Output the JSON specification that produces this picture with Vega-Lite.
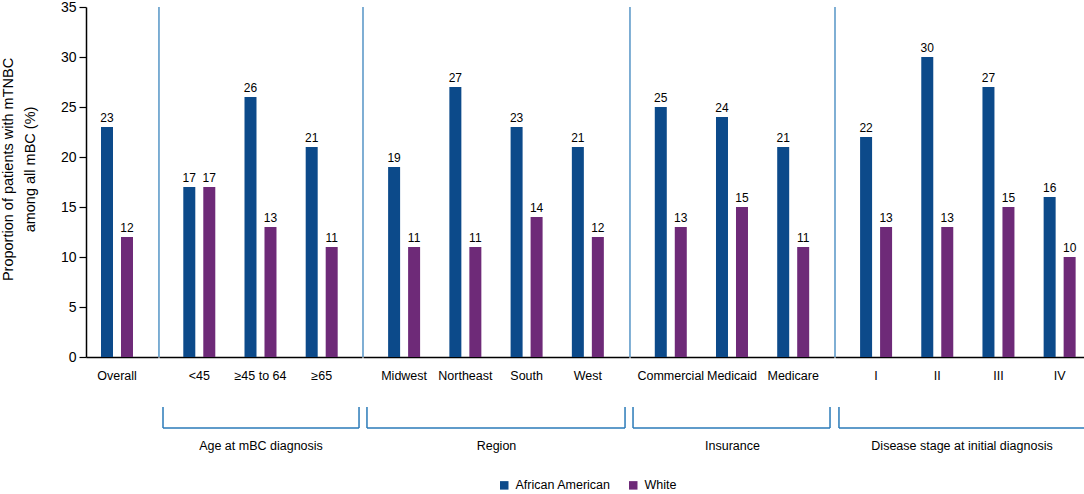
{
  "$schema": "https://vega.github.io/schema/vega-lite/v6.json",
  "padding": {"left": 0, "top": 0, "right": 1, "bottom": 0},
  "background": "white",
  "datasets": {
    "bars": [
      {"group": "Overall", "category": "Overall", "race": "African American", "value": 23},
      {"group": "Overall", "category": "Overall", "race": "White", "value": 12},
      {"group": "Age at mBC diagnosis", "category": "<45", "race": "African American", "value": 17},
      {"group": "Age at mBC diagnosis", "category": "<45", "race": "White", "value": 17},
      {"group": "Age at mBC diagnosis", "category": "≥45 to 64", "race": "African American", "value": 26},
      {"group": "Age at mBC diagnosis", "category": "≥45 to 64", "race": "White", "value": 13},
      {"group": "Age at mBC diagnosis", "category": "≥65", "race": "African American", "value": 21},
      {"group": "Age at mBC diagnosis", "category": "≥65", "race": "White", "value": 11},
      {"group": "Region", "category": "Midwest", "race": "African American", "value": 19},
      {"group": "Region", "category": "Midwest", "race": "White", "value": 11},
      {"group": "Region", "category": "Northeast", "race": "African American", "value": 27},
      {"group": "Region", "category": "Northeast", "race": "White", "value": 11},
      {"group": "Region", "category": "South", "race": "African American", "value": 23},
      {"group": "Region", "category": "South", "race": "White", "value": 14},
      {"group": "Region", "category": "West", "race": "African American", "value": 21},
      {"group": "Region", "category": "West", "race": "White", "value": 12},
      {"group": "Insurance", "category": "Commercial", "race": "African American", "value": 25},
      {"group": "Insurance", "category": "Commercial", "race": "White", "value": 13},
      {"group": "Insurance", "category": "Medicaid", "race": "African American", "value": 24},
      {"group": "Insurance", "category": "Medicaid", "race": "White", "value": 15},
      {"group": "Insurance", "category": "Medicare", "race": "African American", "value": 21},
      {"group": "Insurance", "category": "Medicare", "race": "White", "value": 11},
      {"group": "Disease stage", "category": "I", "race": "African American", "value": 22},
      {"group": "Disease stage", "category": "I", "race": "White", "value": 13},
      {"group": "Disease stage", "category": "II", "race": "African American", "value": 30},
      {"group": "Disease stage", "category": "II", "race": "White", "value": 13},
      {"group": "Disease stage", "category": "III", "race": "African American", "value": 27},
      {"group": "Disease stage", "category": "III", "race": "White", "value": 15},
      {"group": "Disease stage", "category": "IV", "race": "African American", "value": 16},
      {"group": "Disease stage", "category": "IV", "race": "White", "value": 10}
    ],
    "groups": [
      {"group": "Age at mBC diagnosis"},
      {"group": "Region"},
      {"group": "Insurance"},
      {"group": "Disease stage"}
    ]
  },
  "data": {"name": "bars"},
  "spacing": 0,
  "resolve": {"scale": {"x": "independent", "y": "independent", "color": "shared"}},
  "hconcat": [
    {
      "width": 72,
      "height": 350,
      "transform": [{"filter": "datum.group === 'Overall'"}],
      "encoding": {
        "x": {"field": "category", "type": "nominal", "sort": null,
              "scale": {"domain": ["Overall"], "paddingInner": 0.477, "paddingOuter": 0.327, "align": 0.375},
              "axis": {"title": null}},
        "xOffset": {"field": "race", "type": "nominal", "sort": ["African American", "White"], "scale": {"paddingInner": 0.4, "paddingOuter": 0}},
        "y": {"field": "value", "type": "quantitative",
              "scale": {"domain": [0, 35], "nice": false},
              "axis": {
                "values": [0, 5, 10, 15, 20, 25, 30, 35],
                "title": ["Proportion of patients with mTNBC", "among all mBC (%)"],
                "titleFontSize": 14.5, "titleLineHeight": 22, "titlePadding": 23, "titleY": 162,
                "labelFontSize": 14, "labelPadding": 3, "tickSize": 7, "tickColor": "black", "tickWidth": 1.2,
                "domainWidth": 1.5, "grid": false
              }}
      },
      "layer": [
        {"mark": {"type": "bar"},
         "encoding": {"color": {"field": "race", "type": "nominal",
           "scale": {"domain": ["African American", "White"], "range": ["#0c4a8a", "#6e2a78"]},
           "legend": {"orient": "none", "direction": "horizontal", "legendX": 412, "legendY": 472, "title": null,
                      "symbolType": "square", "symbolSize": 72, "symbolStrokeWidth": 0,
                      "labelFontSize": 12.5, "labelColor": "black", "columnPadding": 16, "labelOffset": 5, "padding": 0}}}},
        {"mark": {"type": "text", "dy": -5, "fontSize": 12, "baseline": "alphabetic", "color": "black"},
         "encoding": {"text": {"field": "value", "type": "quantitative"}}}
      ]
    },
    {
      "width": 203,
      "height": 350,
      "layer": [
        {
          "transform": [{"filter": "datum.group === 'Age at mBC diagnosis'"}],
          "encoding": {
            "x": {"field": "category", "type": "nominal", "sort": null,
                  "scale": {"domain": ["<45", "≥45 to 64", "≥65"], "paddingInner": 0.477, "paddingOuter": 0.397},
                  "axis": {"title": "Age at mBC diagnosis"}},
            "xOffset": {"field": "race", "type": "nominal", "sort": ["African American", "White"], "scale": {"paddingInner": 0.4, "paddingOuter": 0}},
            "y": {"field": "value", "type": "quantitative", "scale": {"domain": [0, 35], "nice": false}, "axis": null}
          },
          "layer": [
            {"mark": {"type": "bar"}, "encoding": {"color": {"field": "race", "type": "nominal"}}},
            {"mark": {"type": "text", "dy": -5, "fontSize": 12, "baseline": "alphabetic", "color": "black"},
             "encoding": {"text": {"field": "value", "type": "quantitative"}}}
          ]
        },
        {
          "data": {"name": "groups"},
          "transform": [{"filter": "datum.group === 'Age at mBC diagnosis'"}],
          "mark": {"type": "rule", "color": "#2a7ab8", "strokeWidth": 1.2},
          "encoding": {"x": {"datum": "<45", "bandPosition": -0.76}, "y": {"datum": 35}, "y2": {"datum": 0}}
        },
        {
          "data": {"name": "groups"},
          "transform": [{"filter": "datum.group === 'Age at mBC diagnosis'"}],
          "mark": {"type": "rule", "color": "#2a7ab8", "strokeWidth": 1.5},
          "encoding": {"x": {"datum": "<45", "bandPosition": -0.634}, "y": {"datum": -5}, "y2": {"datum": -7.1}}
        },
        {
          "data": {"name": "groups"},
          "transform": [{"filter": "datum.group === 'Age at mBC diagnosis'"}],
          "mark": {"type": "rule", "color": "#2a7ab8", "strokeWidth": 1.5},
          "encoding": {"x": {"datum": "≥65", "bandPosition": 1.666}, "y": {"datum": -5}, "y2": {"datum": -7.1}}
        },
        {
          "data": {"name": "groups"},
          "transform": [{"filter": "datum.group === 'Age at mBC diagnosis'"}],
          "mark": {"type": "rule", "color": "#2a7ab8", "strokeWidth": 1.5},
          "encoding": {"x": {"datum": "<45", "bandPosition": -0.634}, "x2": {"datum": "≥65", "bandPosition": 1.666}, "y": {"datum": -7.1}}
        }
      ]
    },
    {
      "width": 266,
      "height": 350,
      "layer": [
        {
          "transform": [{"filter": "datum.group === 'Region'"}],
          "encoding": {
            "x": {"field": "category", "type": "nominal", "sort": null,
                  "scale": {"domain": ["Midwest", "Northeast", "South", "West"], "paddingInner": 0.477, "paddingOuter": 0.41},
                  "axis": {"title": "Region"}},
            "xOffset": {"field": "race", "type": "nominal", "sort": ["African American", "White"], "scale": {"paddingInner": 0.4, "paddingOuter": 0}},
            "y": {"field": "value", "type": "quantitative", "scale": {"domain": [0, 35], "nice": false}, "axis": null}
          },
          "layer": [
            {"mark": {"type": "bar"}, "encoding": {"color": {"field": "race", "type": "nominal"}}},
            {"mark": {"type": "text", "dy": -5, "fontSize": 12, "baseline": "alphabetic", "color": "black"},
             "encoding": {"text": {"field": "value", "type": "quantitative"}}}
          ]
        },
        {
          "data": {"name": "groups"},
          "transform": [{"filter": "datum.group === 'Region'"}],
          "mark": {"type": "rule", "color": "#2a7ab8", "strokeWidth": 1.2},
          "encoding": {"x": {"datum": "Midwest", "bandPosition": -0.784}, "y": {"datum": 35}, "y2": {"datum": 0}}
        },
        {
          "data": {"name": "groups"},
          "transform": [{"filter": "datum.group === 'Region'"}],
          "mark": {"type": "rule", "color": "#2a7ab8", "strokeWidth": 1.5},
          "encoding": {"x": {"datum": "Midwest", "bandPosition": -0.66}, "y": {"datum": -5}, "y2": {"datum": -7.1}}
        },
        {
          "data": {"name": "groups"},
          "transform": [{"filter": "datum.group === 'Region'"}],
          "mark": {"type": "rule", "color": "#2a7ab8", "strokeWidth": 1.5},
          "encoding": {"x": {"datum": "West", "bandPosition": 1.66}, "y": {"datum": -5}, "y2": {"datum": -7.1}}
        },
        {
          "data": {"name": "groups"},
          "transform": [{"filter": "datum.group === 'Region'"}],
          "mark": {"type": "rule", "color": "#2a7ab8", "strokeWidth": 1.5},
          "encoding": {"x": {"datum": "Midwest", "bandPosition": -0.66}, "x2": {"datum": "West", "bandPosition": 1.66}, "y": {"datum": -7.1}}
        }
      ]
    },
    {
      "width": 204,
      "height": 350,
      "layer": [
        {
          "transform": [{"filter": "datum.group === 'Insurance'"}],
          "encoding": {
            "x": {"field": "category", "type": "nominal", "sort": null,
                  "scale": {"domain": ["Commercial", "Medicaid", "Medicare"], "paddingInner": 0.477, "paddingOuter": 0.405},
                  "axis": {"title": "Insurance"}},
            "xOffset": {"field": "race", "type": "nominal", "sort": ["African American", "White"], "scale": {"paddingInner": 0.4, "paddingOuter": 0}},
            "y": {"field": "value", "type": "quantitative", "scale": {"domain": [0, 35], "nice": false}, "axis": null}
          },
          "layer": [
            {"mark": {"type": "bar"}, "encoding": {"color": {"field": "race", "type": "nominal"}}},
            {"mark": {"type": "text", "dy": -5, "fontSize": 12, "baseline": "alphabetic", "color": "black"},
             "encoding": {"text": {"field": "value", "type": "quantitative"}}}
          ]
        },
        {
          "data": {"name": "groups"},
          "transform": [{"filter": "datum.group === 'Insurance'"}],
          "mark": {"type": "rule", "color": "#2a7ab8", "strokeWidth": 1.2},
          "encoding": {"x": {"datum": "Commercial", "bandPosition": -0.775}, "y": {"datum": 35}, "y2": {"datum": 0}}
        },
        {
          "data": {"name": "groups"},
          "transform": [{"filter": "datum.group === 'Insurance'"}],
          "mark": {"type": "rule", "color": "#2a7ab8", "strokeWidth": 1.5},
          "encoding": {"x": {"datum": "Commercial", "bandPosition": -0.68}, "y": {"datum": -5}, "y2": {"datum": -7.1}}
        },
        {
          "data": {"name": "groups"},
          "transform": [{"filter": "datum.group === 'Insurance'"}],
          "mark": {"type": "rule", "color": "#2a7ab8", "strokeWidth": 1.5},
          "encoding": {"x": {"datum": "Medicare", "bandPosition": 1.65}, "y": {"datum": -5}, "y2": {"datum": -7.1}}
        },
        {
          "data": {"name": "groups"},
          "transform": [{"filter": "datum.group === 'Insurance'"}],
          "mark": {"type": "rule", "color": "#2a7ab8", "strokeWidth": 1.5},
          "encoding": {"x": {"datum": "Commercial", "bandPosition": -0.68}, "x2": {"datum": "Medicare", "bandPosition": 1.65}, "y": {"datum": -7.1}}
        }
      ]
    },
    {
      "width": 253,
      "height": 350,
      "layer": [
        {
          "transform": [{"filter": "datum.group === 'Disease stage'"}],
          "encoding": {
            "x": {"field": "category", "type": "nominal", "sort": null,
                  "scale": {"domain": ["I", "II", "III", "IV"], "paddingInner": 0.477, "paddingOuter": 0.306, "align": 0.67},
                  "axis": {"title": "Disease stage at initial diagnosis"}},
            "xOffset": {"field": "race", "type": "nominal", "sort": ["African American", "White"], "scale": {"paddingInner": 0.4, "paddingOuter": 0}},
            "y": {"field": "value", "type": "quantitative", "scale": {"domain": [0, 35], "nice": false}, "axis": null}
          },
          "layer": [
            {"mark": {"type": "bar"}, "encoding": {"color": {"field": "race", "type": "nominal"}}},
            {"mark": {"type": "text", "dy": -5, "fontSize": 12, "baseline": "alphabetic", "color": "black"},
             "encoding": {"text": {"field": "value", "type": "quantitative"}}}
          ]
        },
        {
          "data": {"name": "groups"},
          "transform": [{"filter": "datum.group === 'Disease stage'"}],
          "mark": {"type": "rule", "color": "#2a7ab8", "strokeWidth": 1.2},
          "encoding": {"x": {"datum": "I", "bandPosition": -0.784}, "y": {"datum": 35}, "y2": {"datum": 0}}
        },
        {
          "data": {"name": "groups"},
          "transform": [{"filter": "datum.group === 'Disease stage'"}],
          "mark": {"type": "rule", "color": "#2a7ab8", "strokeWidth": 1.5},
          "encoding": {"x": {"datum": "I", "bandPosition": -0.66}, "y": {"datum": -5}, "y2": {"datum": -7.1}}
        },
        {
          "data": {"name": "groups"},
          "transform": [{"filter": "datum.group === 'Disease stage'"}],
          "mark": {"type": "rule", "color": "#2a7ab8", "strokeWidth": 1.5},
          "encoding": {"x": {"datum": "IV", "bandPosition": 1.385}, "y": {"datum": -5}, "y2": {"datum": -7.1}}
        },
        {
          "data": {"name": "groups"},
          "transform": [{"filter": "datum.group === 'Disease stage'"}],
          "mark": {"type": "rule", "color": "#2a7ab8", "strokeWidth": 1.5},
          "encoding": {"x": {"datum": "I", "bandPosition": -0.66}, "x2": {"datum": "IV", "bandPosition": 1.385}, "y": {"datum": -7.1}}
        }
      ]
    }
  ],
  "config": {
    "font": "Liberation Sans",
    "view": {"stroke": null},
    "axis": {"labelColor": "black", "titleColor": "black", "titleFontWeight": "normal", "domainColor": "black", "grid": false},
    "axisX": {"labelAngle": 0, "labelFontSize": 12.5, "ticks": false, "tickSize": 0, "labelPadding": 12, "domainWidth": 1.5,
              "titleFontSize": 12.5, "titleY": 88, "titleBaseline": "middle"}
  }
}
